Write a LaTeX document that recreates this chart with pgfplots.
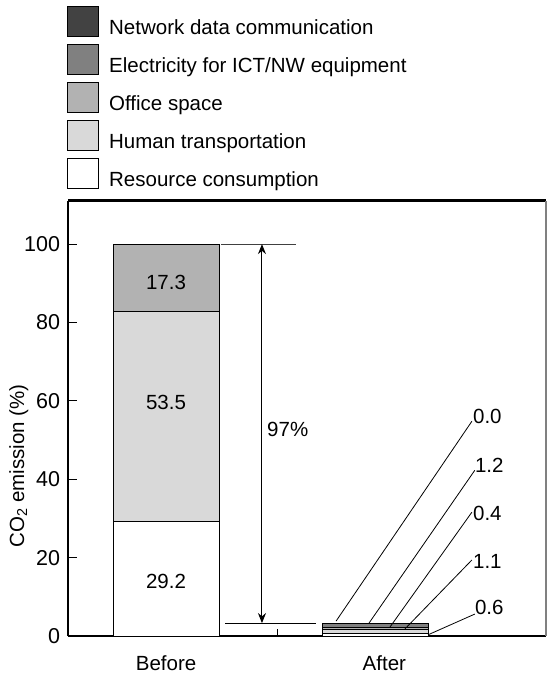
\documentclass[border=0pt]{standalone}
\usepackage{fontspec}
\setmainfont{Liberation Sans}
\usepackage{pgfplots}
\pgfplotsset{compat=1.18}
\usetikzlibrary{arrows.meta}

\definecolor{cNet}{gray}{0.26}
\definecolor{cElec}{gray}{0.50}
\definecolor{cOffice}{gray}{0.70}
\definecolor{cHuman}{gray}{0.85}
\definecolor{cRes}{gray}{1.00}

\begin{document}
\fontsize{20.5bp}{24bp}\selectfont
\begin{tikzpicture}
  \begin{axis}[
    scale only axis,
    width=478bp, height=435bp,
    ybar stacked,
    bar width=0.505,
    xmin=-0.467, xmax=1.81,
    ymin=0, ymax=111,
    clip=false,
    axis lines*=left,
    axis line style={-, line width=2.7bp},
    xtick={0,1.04},
    xticklabels={Before,After},
    xtick style={draw=none},
    xticklabel style={anchor=north, yshift=-13bp},
    ytick={0,20,...,100},
    tick align=inside,
    major tick length=9bp,
    ytick style={line width=1bp, black},
    yticklabel style={xshift=-1bp, font=\fontsize{21.5bp}{24bp}\selectfont},
    /pgf/number format/assume math mode=true,
    ylabel={CO\textsubscript{2} emission (\%)},
    ylabel style={at={(axis description cs:-0.103,0.391)}, anchor=center},
    reverse legend,
    legend cell align=left,
    legend style={
      at={(axis description cs:0,1)}, anchor=south west,
      xshift=-1bp, yshift=11bp,
      draw=none, fill=none, inner sep=0pt,
      nodes={inner sep=0pt},
      row sep=6.6bp, column sep=10bp,
    },
    every axis plot post/.append style={
      draw=black, line width=1bp,
      legend image code/.code={
        \draw[#1, draw=black, line width=1bp] (0bp,-8bp) rectangle (31bp,22bp);
      },
    },
  ]
    % stacked from the bottom: Before at x=0, After at x=1
    \addplot[fill=cRes]    coordinates {(0,29.2) (1,0.6)};
    \addplot[fill=cHuman]  coordinates {(0,53.5) (1,1.1)};
    \addplot[fill=cOffice] coordinates {(0,17.3) (1,0.4)};
    \addplot[fill=cElec]   coordinates {(0,0)    (1,1.2)};
    \addplot[fill=cNet]    coordinates {(0,0)    (1,0.0)};
    \legend{Resource consumption, Human transportation, Office space,
            Electricity for ICT/NW equipment, Network data communication}

    % anchor points for the annotations (drawn after the axis, over the bars)
    \coordinate (TL) at (rel axis cs:0,1);
    \coordinate (TR) at (rel axis cs:1,1);
    \coordinate (BR) at (rel axis cs:1,0);
    \coordinate (mtick) at (axis cs:0.53,0);
    \coordinate (v1) at (axis cs:0,90.3);
    \coordinate (v2) at (axis cs:0,59.7);
    \coordinate (v3) at (axis cs:0,14.0);
    \coordinate (h1a) at (axis cs:0.262,100);
    \coordinate (h1b) at (axis cs:0.619,100);
    \coordinate (h2a) at (axis cs:0.281,3.3);
    \coordinate (h2b) at (axis cs:0.714,3.3);
    \coordinate (ar1) at (axis cs:0.457,100);
    \coordinate (ar2) at (axis cs:0.457,3.3);
    \coordinate (pct) at (axis cs:0.481,52.8);
    \coordinate (s1) at (axis cs:0.810,3.8);  \coordinate (e1) at (axis cs:1.457,54.8);
    \coordinate (s2) at (axis cs:0.967,3.3);  \coordinate (e2) at (axis cs:1.471,42.3);
    \coordinate (s3) at (axis cs:1.067,2.3);  \coordinate (e3) at (axis cs:1.457,31.6);
    \coordinate (s4) at (axis cs:1.138,1.8);  \coordinate (e4) at (axis cs:1.457,19.4);
    \coordinate (s5) at (axis cs:1.248,0.3);  \coordinate (e5) at (axis cs:1.471,5.6);
    \coordinate (t1) at (axis cs:1.462,56.1);
    \coordinate (t2) at (axis cs:1.471,43.6);
    \coordinate (t3) at (axis cs:1.462,31.4);
    \coordinate (t4) at (axis cs:1.462,18.9);
    \coordinate (t5) at (axis cs:1.471,7.4);
  \end{axis}

  % frame: thick top, thin grey right, one tick between the bars
  \draw[line width=3bp] (TL) -- (TR);
  \draw[gray, line width=1.2bp] (BR) -- (TR);
  \draw[line width=1bp] (mtick) -- ++(0,7bp);

  % values inside the Before bar
  \node at (v1) {17.3};
  \node at (v2) {53.5};
  \node at (v3) {29.2};

  % reduction arrow
  \draw[darkgray, line width=1.2bp] (h1a) -- (h1b);
  \draw[line width=1bp] (h2a) -- (h2b);
  \draw[line width=1bp, {Stealth[length=10bp,width=8bp]}-{Stealth[length=10bp,width=8bp]}]
    (ar1) -- (ar2);
  \node[anchor=west, inner sep=0pt] at (pct) {97\%};

  % leader lines for the After bar
  \foreach \i in {1,...,5} {\draw[line width=0.8bp] (s\i) -- (e\i);}
  \node[anchor=west, inner sep=0pt] at (t1) {0.0};
  \node[anchor=west, inner sep=0pt] at (t2) {1.2};
  \node[anchor=west, inner sep=0pt] at (t3) {0.4};
  \node[anchor=west, inner sep=0pt] at (t4) {1.1};
  \node[anchor=west, inner sep=0pt] at (t5) {0.6};

  \pgfresetboundingbox
  \path[use as bounding box] (-68bp,-42bp) rectangle (479bp,636bp);
\end{tikzpicture}
\end{document}
